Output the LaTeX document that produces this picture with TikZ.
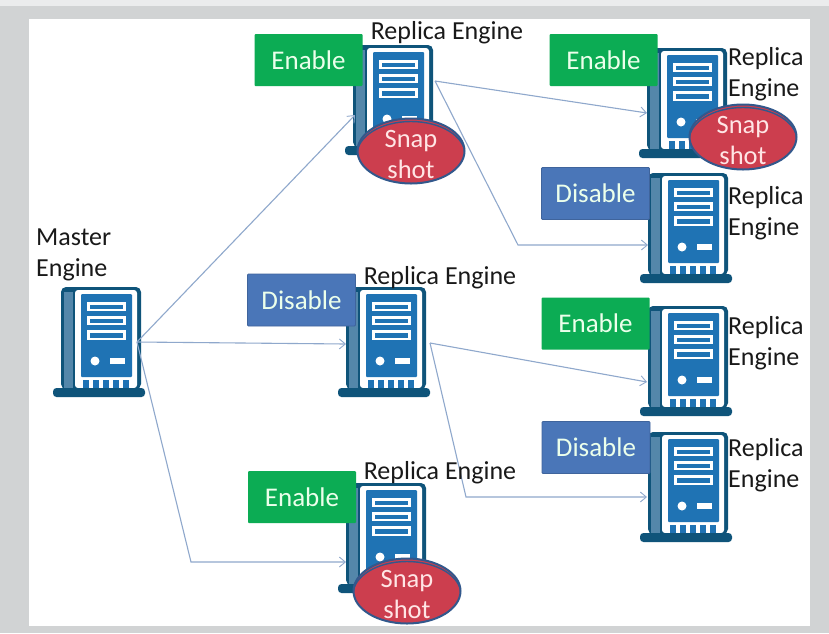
\documentclass[tikz,border=0pt]{standalone}
\usepackage{fontspec}
\setmainfont{Carlito}
\usetikzlibrary{arrows.meta,shapes.geometric}
\definecolor{pagegrey}{RGB}{209,211,212}
\definecolor{topgrey}{RGB}{235,236,237}
\definecolor{srvdark}{RGB}{15,84,122}
\definecolor{srvside}{RGB}{84,135,170}
\definecolor{srvblue}{RGB}{31,115,180}
\definecolor{linkblue}{RGB}{143,168,204}
\definecolor{okgreen}{RGB}{12,172,84}
\definecolor{offblue}{RGB}{74,118,184}
\definecolor{snapred}{RGB}{204,62,78}
\definecolor{snapedge}{RGB}{50,88,140}
\tikzset{
  x=1pt,y=-1pt,
  link/.style={draw=linkblue,line width=1.1pt},
  linkarrow/.style={link,-{Straight Barb[length=6pt,width=10pt,line width=0.9pt]}},
  state/.style={minimum width=#1,minimum height=52pt,inner sep=0pt,font=\fontsize{27}{27}\selectfont,text=white!92!green,rounded corners=1pt},
  on/.style={state=108pt,fill=okgreen},
  off/.style={state=108pt,fill=offblue,draw=offblue!85!black,line width=0.8pt},
  snaptext/.style={align=center,inner sep=0pt,text=white!90!red,font=\fontsize{26.5}{31}\selectfont,yshift=-3pt},
  snap/.style={ellipse,draw=snapedge,line width=2pt,fill=snapred,minimum width=107pt,minimum height=65pt,inner sep=0pt,
    path picture={\draw[snapedge,line width=1.4pt] ([yshift=-3.5pt]path picture bounding box.center) ellipse (54 and 33);},
    label={[snaptext]center:{Snap\\shot}}},
  lab/.style={inner sep=0pt,text=black!90,font=\fontsize{26}{31}\selectfont,align=left},
  server/.pic={
    \fill[srvdark,rounded corners=5pt] (0,102)--(0,0)--(80,0)--(80,102)--cycle;
    \fill[srvside] (3,5) rectangle (12,101);
    \fill[white,rounded corners=3pt] (14,101)--(14,3)--(76,3)--(76,101)--cycle;
    \fill[srvblue,rounded corners=1pt] (20,7) rectangle (71,90);
    \foreach \yy/\hh in {15/9,29/9,43/10}{
      \fill[white] (26,\yy) rectangle (65,\yy+\hh);
      \fill[srvblue] (29,\yy+2.5) rectangle (62,\yy+\hh-2.5);
    }
    \fill[white] (34,74) circle (4.5);
    \fill[white] (49,71) rectangle (64,77);
    \foreach \xx in {22,32,42,52,62}{\fill[srvblue] (\xx,93) rectangle (\xx+6,101);}
    \fill[srvdark,rounded corners=3.5pt] (-8,101) rectangle (84,110);
  },
}
\begin{document}
\begin{tikzpicture}
\useasboundingbox (0,0) rectangle (829,633);
\fill[pagegrey] (0,0) rectangle (829,633);
\fill[topgrey] (0,0) rectangle (829,6);
\fill[white] (29,19) rectangle (810,626);

% servers
\pic at (61,287) {server};
\pic at (353,45) {server};
\pic at (647,48) {server};
\pic at (648,173) {server};
\pic at (346,287) {server};
\pic at (648,306) {server};
\pic at (648,432) {server};
\pic at (346,483) {server};

% connector ends
\coordinate (master) at (137,342);
\coordinate (r1in) at (355,115);
\coordinate (midin) at (346,344);
\coordinate (botknee) at (191,562);
\coordinate (botin) at (346,562);
\coordinate (r1out) at (435,81);
\coordinate (r2in) at (647,113);
\coordinate (r3knee) at (518,245);
\coordinate (r3in) at (648,245);
\coordinate (midout) at (430,343);
\coordinate (r4in) at (647,382);
\coordinate (r5knee) at (466,497);
\coordinate (r5in) at (647,497);

\draw[linkarrow] (master) -- (r1in);
\draw[linkarrow] (master) -- (midin);
\draw[linkarrow] (master) -- (botknee) -- (botin);
\draw[linkarrow] (r1out) -- (r2in);
\draw[linkarrow] (r1out) -- (r3knee) -- (r3in);
\draw[linkarrow] (midout) -- (r4in);
\draw[linkarrow] (midout) -- (r5knee) -- (r5in);

% state boxes
\node[on] (en1) at (308.5,60) {Enable};
\node[on] (en2) at (603.5,60) {Enable};
\node[off] (dis3) at (595.5,193.5) {Disable};
\node[off] (dismid) at (301.5,300) {Disable};
\node[on] (en4) at (595.5,323.5) {Enable};
\node[off] (dis5) at (596,447.5) {Disable};
\node[on] (enbot) at (302,497) {Enable};

% snapshots
\node[snap] (snap1) at (411,151) {};
\node[snap] (snap2) at (743,137) {};
\node[snap] (snap3) at (407,591) {};

% labels
\node[lab,anchor=west] (lmaster) at (36,255) {Master\\Engine};
\node[lab] (l1) at (447,33) {Replica Engine};
\node[lab] (lmid) at (440,278) {Replica Engine};
\node[lab] (lbot) at (440,473) {Replica Engine};
\node[lab,anchor=west] (l2) at (728,74) {Replica\\Engine};
\node[lab,anchor=west] (l3) at (728,213) {Replica\\Engine};
\node[lab,anchor=west] (l4) at (728,343) {Replica\\Engine};
\node[lab,anchor=west] (l5) at (728,465) {Replica\\Engine};
\end{tikzpicture}
\end{document}
